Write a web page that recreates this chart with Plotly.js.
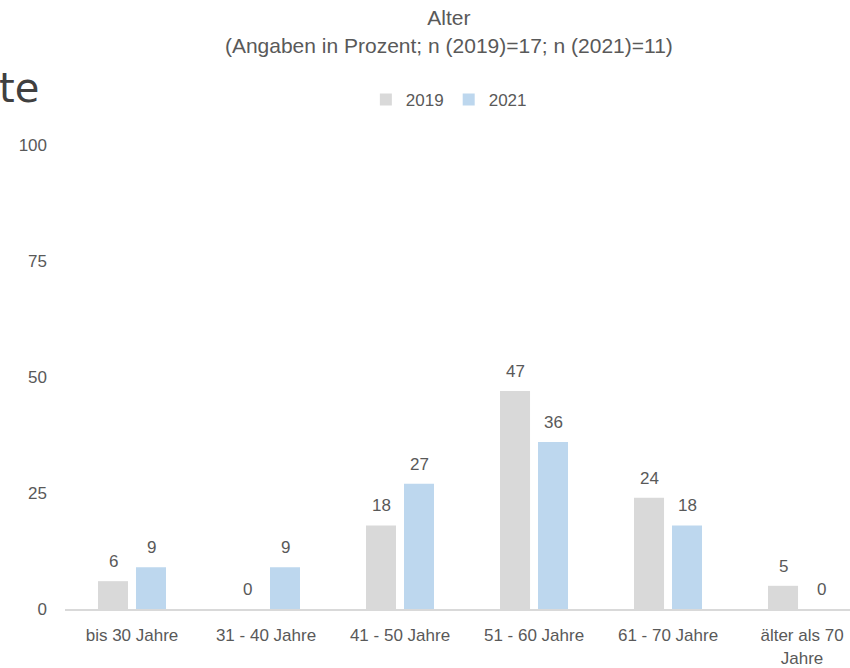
<!DOCTYPE html>
<html>
<head>
<meta charset="utf-8">
<script src="https://cdn.plot.ly/plotly-3.0.1.min.js"></script>
<style>html,body{margin:0;padding:0;background:#fff;}#chart{width:850px;height:668px;}</style>
</head>
<body>
<div id="chart"></div>
<script>
const categories = ["bis 30 Jahre", "31 - 40 Jahre", "41 - 50 Jahre", "51 - 60 Jahre", "61 - 70 Jahre", "älter als 70<br>Jahre"];
const values2019 = [6, 0, 18, 47, 24, 5];
const values2021 = [9, 9, 27, 36, 18, 0];
const seriesNames = ["2019", "2021"];
const yTicks = [0, 25, 50, 75, 100];

const FONT = "Liberation Sans, Arial, sans-serif";
const TXT = "#595959";

const traces = [
  {type: "bar", name: seriesNames[0], x: categories, y: values2019,
   marker: {color: "#D9D9D9"}, hoverinfo: "none"},
  {type: "bar", name: seriesNames[1], x: categories, y: values2021,
   marker: {color: "#BDD7EE"}, hoverinfo: "none"}
];

const labelAnns = [];
[values2019, values2021].forEach((vals, s) => {
  vals.forEach((v, i) => {
    labelAnns.push({x: categories[i], y: v, xref: "x", yref: "y", text: String(v),
      showarrow: false, xanchor: "center", yanchor: "bottom",
      xshift: s === 0 ? -19 : 19, yshift: 8,
      font: {family: FONT, size: 17, color: TXT}});
  });
});

const layout = {
  width: 850, height: 668,
  margin: {l: 65, r: 0, t: 145, b: 59},
  paper_bgcolor: "#fff", plot_bgcolor: "#fff",
  font: {family: FONT, size: 17, color: TXT},
  title: {text: "Alter<br>(Angaben in Prozent; n (2019)=17; n (2021)=11)",
          font: {family: FONT, size: 21, color: TXT},
          x: 0.489, xref: "paper", xanchor: "center",
          y: 0.962, yref: "container", yanchor: "top"},
  barmode: "group", bargap: 0.433, bargroupgap: 0.21,
  showlegend: true,
  legend: {orientation: "h", x: 0.489, xanchor: "center", y: 1.097, yanchor: "middle",
           font: {family: FONT, size: 17, color: TXT}, itemwidth: 30, traceorder: "normal"},
  xaxis: {type: "category", range: [-0.5, 5.358], showline: true, linecolor: "#D9D9D9", linewidth: 2,
          showgrid: false, zeroline: false, ticks: "", ticklabelstandoff: 10,
          tickfont: {family: FONT, size: 17, color: TXT}, fixedrange: true},
  yaxis: {range: [0, 100], tickvals: yTicks, ticktext: yTicks.map(String), showgrid: false,
          zeroline: false, showline: false, ticks: "", ticklabelstandoff: 17,
          tickfont: {family: FONT, size: 17, color: TXT}, fixedrange: true},
  annotations: labelAnns.concat([
    {text: "te", xref: "paper", yref: "paper", x: -0.031, y: 1.123, xanchor: "right", yanchor: "middle",
     showarrow: false, font: {family: "DejaVu Sans, sans-serif", size: 40, color: "#404040"}}
  ])
};

Plotly.newPlot("chart", traces, layout, {displayModeBar: false, staticPlot: true});
</script>
</body>
</html>
